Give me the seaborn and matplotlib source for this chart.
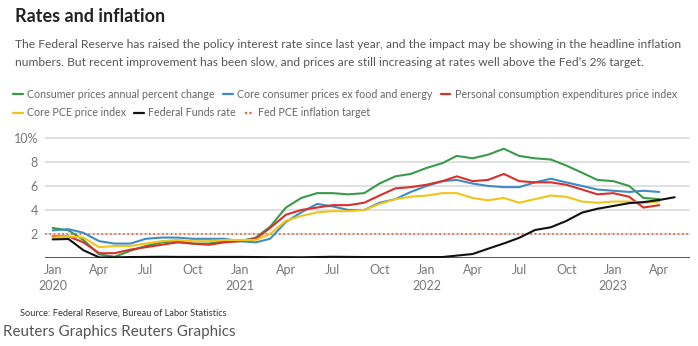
import matplotlib
matplotlib.use("Agg")
import matplotlib.pyplot as plt
from matplotlib.lines import Line2D
import numpy as np
import pandas as pd
import seaborn as sns

# Monthly observations, Jan 2020 - Apr 2023 (Fed funds runs to May 2023)
months = pd.date_range("2020-01-01", "2023-04-01", freq="MS")
ff_months = pd.date_range("2020-01-01", "2023-05-01", freq="MS")

cpi = [2.5, 2.3, 1.5, 0.3, 0.1, 0.6, 1.0, 1.3, 1.4, 1.2, 1.2, 1.4,
       1.4, 1.7, 2.6, 4.2, 5.0, 5.4, 5.4, 5.3, 5.4, 6.2, 6.8, 7.0,
       7.5, 7.9, 8.5, 8.3, 8.6, 9.1, 8.5, 8.3, 8.2, 7.7, 7.1, 6.5,
       6.4, 6.0, 5.0, 4.9]
core_cpi = [2.3, 2.4, 2.1, 1.4, 1.2, 1.2, 1.6, 1.7, 1.7, 1.6, 1.6, 1.6,
            1.4, 1.3, 1.6, 3.0, 3.8, 4.5, 4.3, 4.0, 4.0, 4.6, 4.9, 5.5,
            6.0, 6.4, 6.5, 6.2, 6.0, 5.9, 5.9, 6.3, 6.6, 6.3, 6.0, 5.7,
            5.6, 5.5, 5.6, 5.5]
pce = [1.8, 1.8, 1.3, 0.4, 0.4, 0.7, 0.9, 1.1, 1.3, 1.2, 1.1, 1.3,
       1.4, 1.6, 2.5, 3.6, 4.0, 4.2, 4.4, 4.4, 4.6, 5.2, 5.8, 5.9,
       6.1, 6.4, 6.8, 6.4, 6.5, 7.0, 6.4, 6.3, 6.3, 6.1, 5.7, 5.3,
       5.4, 5.1, 4.2, 4.4]
core_pce = [1.7, 1.8, 1.7, 0.9, 1.0, 1.0, 1.2, 1.4, 1.5, 1.4, 1.4, 1.5,
            1.5, 1.5, 2.0, 3.1, 3.5, 3.8, 3.9, 3.9, 4.0, 4.5, 4.9, 5.1,
            5.2, 5.4, 5.4, 5.0, 4.8, 5.0, 4.6, 4.9, 5.2, 5.1, 4.7, 4.6,
            4.7, 4.7, 4.6, 4.7]
fed_funds = [1.55, 1.58, 0.65, 0.05, 0.05, 0.08, 0.09, 0.1, 0.09, 0.09, 0.09, 0.09,
             0.09, 0.08, 0.07, 0.07, 0.06, 0.08, 0.1, 0.09, 0.08, 0.08, 0.08, 0.08,
             0.08, 0.08, 0.2, 0.33, 0.77, 1.21, 1.68, 2.33, 2.56, 3.08, 3.78, 4.1,
             4.33, 4.57, 4.65, 4.83, 5.06]
target = 2.0

series_names = ["Consumer prices annual percent change",
                "Core consumer prices ex food and energy",
                "Personal consumption expenditures price index",
                "Core PCE price index",
                "Federal Funds rate"]
colors = ["#3a9a4a", "#3f8cc4", "#d9302c", "#f0c419", "#111111"]
target_label = "Fed PCE inflation target"
target_color = "#e8643c"

frames = []
for name, vals in zip(series_names[:4], [cpi, core_cpi, pce, core_pce]):
    frames.append(pd.DataFrame({"date": months, "value": vals, "series": name}))
frames.append(pd.DataFrame({"date": ff_months, "value": fed_funds, "series": series_names[4]}))
df = pd.concat(frames, ignore_index=True)

sns.set_style("white")
plt.rcParams["font.family"] = ["Lato", "DejaVu Sans"]

fig = plt.figure(figsize=(6.98, 3.46), dpi=100)
ax = fig.add_axes([45 / 698, (346 - 258) / 346, 645 / 698, 122.5 / 346])

# gridlines and target
for g in [2, 4, 6, 8, 10]:
    ax.axhline(g, color="#dddddd", lw=1.3, zorder=0)
ax.axhline(0, color="#555555", lw=1.4, zorder=1)
ax.axhline(target, color=target_color, lw=1.2, ls=(0, (1, 1.6)), zorder=1)

sns.lineplot(data=df, x="date", y="value", hue="series", hue_order=series_names,
             palette=dict(zip(series_names, colors)), lw=1.5, legend=False, ax=ax,
             zorder=3)

ax.set_xlim(pd.Timestamp("2019-12-17"), pd.Timestamp("2023-05-31"))
ax.set_ylim(0, 10.2)
for s in ax.spines.values():
    s.set_visible(False)
ax.set_xlabel("")
ax.set_ylabel("")

tick_dates = pd.date_range("2020-01-01", "2023-04-01", freq="3MS")
tick_labels = []
for d in tick_dates:
    lab = d.strftime("%b")
    if d.month == 1:
        lab += "\n" + str(d.year)
    tick_labels.append(lab)
ax.set_xticks(tick_dates)
ax.set_xticklabels(tick_labels, fontsize=9, color="#777777", linespacing=1.45, va="top")
ax.set_yticks([2, 4, 6, 8, 10])
ax.set_yticklabels(["2", "4", "6", "8", "10%"], fontsize=9, color="#777777")
ax.tick_params(axis="both", length=0, pad=5)
ax.tick_params(axis="x", pad=4)

# heading
fig.text(15 / 698, 1 - 16 / 346, "Rates and inflation", fontsize=13, fontweight="bold",
         color="#222222", va="center", ha="left")
fig.text(15 / 698, 1 - 45 / 346,
         "The Federal Reserve has raised the policy interest rate since last year, and the impact may be showing in the headline inflation",
         fontsize=8.65, color="#555555", va="center", ha="left")
fig.text(15 / 698, 1 - 62 / 346,
         "numbers. But recent improvement has been slow, and prices are still increasing at rates well above the Fed\u2019s 2% target.",
         fontsize=8.65, color="#555555", va="center", ha="left")

# legend rows
def legend_row(names, cols, styles, y):
    handles = [Line2D([0], [0], color=c, lw=1.6, ls=st) for c, st in zip(cols, styles)]
    leg = fig.legend(handles, names, loc="center left", bbox_to_anchor=(13 / 698, 1 - y / 346),
                     ncol=len(names), frameon=False, fontsize=7.7, handlelength=0.9,
                     handletextpad=0.4, columnspacing=0.8, borderaxespad=0, borderpad=0)
    for t in leg.get_texts():
        t.set_color("#666666")
    return leg

legend_row(series_names[:3], colors[:3], ["-"] * 3, 94)
legend_row([series_names[3], series_names[4], target_label],
           [colors[3], colors[4], target_color], ["-", "-", (0, (1, 1))], 113)

fig.text(20 / 698, 1 - 313 / 346, "Source: Federal Reserve, Bureau of Labor Statistics",
         fontsize=6.7, color="#333333", va="center", ha="left")
fig.text(3 / 698, 1 - 332 / 346, "Reuters Graphics Reuters Graphics",
         fontsize=10.9, color="#555555", va="center", ha="left")

fig.savefig("out.png", dpi=100)
